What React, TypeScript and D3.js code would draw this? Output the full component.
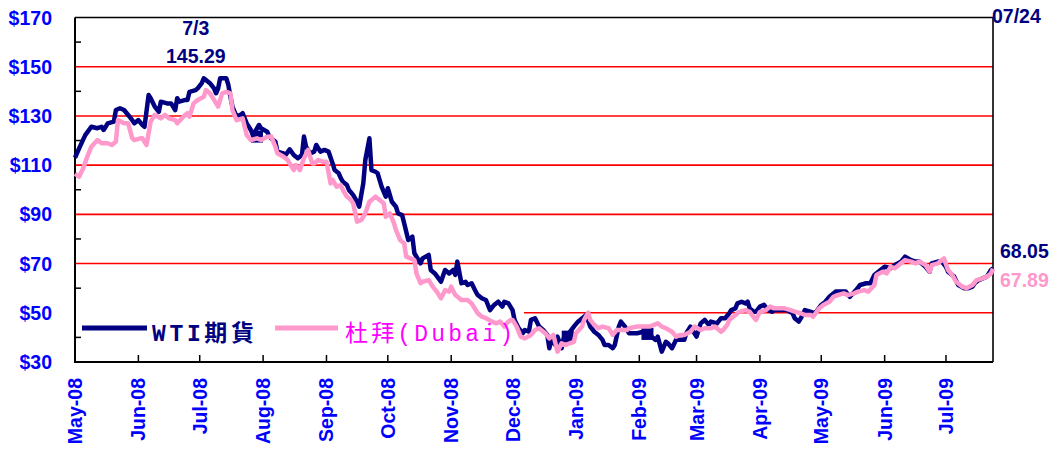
import * as d3 from 'd3';
import React from 'react';

// WTI futures and Dubai crude (date, USD/bbl)
const wtiSeries: [string, number][] = [
  ["2008-05-01",113],["2008-05-03",116.8],["2008-05-06",122.2],["2008-05-09",125.6],["2008-05-12",125],["2008-05-14",125.6],["2008-05-15",124.3],["2008-05-17",127],["2008-05-20",127.7],["2008-05-21",132.4],["2008-05-23",133.1],["2008-05-25",132.4],["2008-05-27",130.4],["2008-05-29",128.3],["2008-05-30",127],
  ["2008-06-01",128.3],["2008-06-03",126.3],["2008-06-04",125.6],["2008-06-06",138.5],["2008-06-07",137.2],["2008-06-09",133.8],["2008-06-11",131.7],["2008-06-12",135.8],["2008-06-15",135.1],["2008-06-17",135.1],["2008-06-19",132.4],["2008-06-20",137.2],["2008-06-21",135.8],["2008-06-24",136.5],["2008-06-25",136.5],["2008-06-26",139.8],["2008-06-29",140.5],["2008-06-30",141.2],
  ["2008-07-02",143.3],["2008-07-03",145.29],["2008-07-06",143.3],["2008-07-08",141.2],["2008-07-09",139.2],["2008-07-10",141.2],["2008-07-11",145.3],["2008-07-14",145.3],["2008-07-15",142.6],["2008-07-16",137.8],["2008-07-17",133.8],["2008-07-19",129.7],["2008-07-21",130.4],["2008-07-22",131.1],["2008-07-24",127],["2008-07-26",124.3],["2008-07-27",122.2],["2008-07-30",126.3],["2008-07-31",125],
  ["2008-08-03",123.6],["2008-08-04",121.6],["2008-08-07",119.5],["2008-08-08",115.5],["2008-08-11",114.8],["2008-08-12",114.1],["2008-08-14",116.4],["2008-08-16",114.1],["2008-08-18",112.8],["2008-08-20",114.1],["2008-08-21",121.6],["2008-08-22",117.5],["2008-08-24",114.8],["2008-08-26",115.5],["2008-08-27",118.2],["2008-08-29",115.5],["2008-08-31",116.2],
  ["2008-09-02",115.5],["2008-09-04",110.7],["2008-09-05",108],["2008-09-07",106.7],["2008-09-08",104.7],["2008-09-09",103.3],["2008-09-11",101.9],["2008-09-12",99.9],["2008-09-14",97.9],["2008-09-16",95.1],["2008-09-17",93.1],["2008-09-19",102.6],["2008-09-20",112.1],["2008-09-22",120.9],["2008-09-23",108],["2008-09-25",107.3],["2008-09-26",106.7],["2008-09-28",101.2],["2008-09-30",97.2],
  ["2008-10-01",100.6],["2008-10-03",95.1],["2008-10-05",93.1],["2008-10-06",90.4],["2008-10-08",89.7],["2008-10-09",86.4],["2008-10-11",79.6],["2008-10-13",80.9],["2008-10-14",74.2],["2008-10-17",70.1],["2008-10-18",72.1],["2008-10-21",73.5],["2008-10-22",67.4],["2008-10-24",66],["2008-10-27",62.6],["2008-10-29",67.4],["2008-10-31",66],
  ["2008-11-02",67.4],["2008-11-03",65.4],["2008-11-04",70.8],["2008-11-06",62],["2008-11-08",62.6],["2008-11-09",61.3],["2008-11-11",62],["2008-11-13",58.6],["2008-11-14",57.2],["2008-11-16",55.9],["2008-11-18",55.2],["2008-11-20",51.1],["2008-11-22",53.2],["2008-11-24",54.5],["2008-11-26",52.5],["2008-11-27",54.5],["2008-11-29",53.8],
  ["2008-12-01",51.1],["2008-12-02",47.1],["2008-12-04",43.7],["2008-12-06",41.7],["2008-12-07",43],["2008-12-09",42.3],["2008-12-10",47.1],["2008-12-12",47.8],["2008-12-14",44.4],["2008-12-16",43],["2008-12-18",41],["2008-12-19",35.6],["2008-12-20",39],["2008-12-22",36.9],["2008-12-23",40.3],["2008-12-25",35.6],["2008-12-26",39.6],["2008-12-28",41],["2008-12-31",44.4],
  ["2009-01-02",46.4],["2009-01-05",48.4],["2009-01-06",49.1],["2009-01-08",44.4],["2009-01-10",42.3],["2009-01-12",41],["2009-01-14",39],["2009-01-15",36.9],["2009-01-17",36.9],["2009-01-19",35.6],["2009-01-20",36.9],["2009-01-22",44.4],["2009-01-23",46.4],["2009-01-25",44.4],["2009-01-27",41.7],["2009-01-31",41.7],
  ["2009-02-03",42.3],["2009-02-05",41],["2009-02-07",40.3],["2009-02-09",39],["2009-02-10",40.3],["2009-02-12",34.2],["2009-02-14",38.2],["2009-02-15",37.6],["2009-02-17",35.6],["2009-02-19",39],["2009-02-21",39],["2009-02-23",39],["2009-02-24",41.7],["2009-02-26",44.4],["2009-02-27",43],
  ["2009-03-01",40.3],["2009-03-03",45.7],["2009-03-05",47.1],["2009-03-07",45.1],["2009-03-08",46.4],["2009-03-11",45.7],["2009-03-13",47.8],["2009-03-15",47.8],["2009-03-17",49.8],["2009-03-18",51.1],["2009-03-20",51.8],["2009-03-21",53.8],["2009-03-23",54.5],["2009-03-25",53.8],["2009-03-26",54.5],["2009-03-27",51.8],["2009-03-29",50.4],["2009-03-30",50.4],
  ["2009-04-01",52.5],["2009-04-03",53.2],["2009-04-05",51.1],["2009-04-07",50.4],["2009-04-08",51.1],["2009-04-10",51.1],["2009-04-13",51.1],["2009-04-14",51.1],["2009-04-17",49.8],["2009-04-18",47.8],["2009-04-20",46.4],["2009-04-21",47.8],["2009-04-23",51.1],["2009-04-26",50.4],["2009-04-28",49.8],
  ["2009-05-01",53.2],["2009-05-03",54.5],["2009-05-05",56.5],["2009-05-08",58.6],["2009-05-10",58.6],["2009-05-13",58.6],["2009-05-15",56.5],["2009-05-18",59.2],["2009-05-20",61.3],["2009-05-23",62],["2009-05-25",62],["2009-05-27",65.4],["2009-05-30",67.4],
  ["2009-06-01",68.7],["2009-06-04",68.1],["2009-06-06",69.4],["2009-06-09",70.8],["2009-06-11",72.8],["2009-06-14",71.4],["2009-06-16",70.8],["2009-06-18",70.8],["2009-06-21",68.7],["2009-06-23",66.7],["2009-06-24",70.1],["2009-06-27",70.8],["2009-06-29",70.8],
  ["2009-07-01",68.7],["2009-07-02",66.7],["2009-07-05",64.7],["2009-07-07",61.3],["2009-07-10",60],["2009-07-12",60],["2009-07-14",60.6],["2009-07-15",62],["2009-07-17",63.3],["2009-07-19",64],["2009-07-21",64.7],["2009-07-23",67.4],["2009-07-24",68.05],
];

const dubaiSeries: [string, number][] = [
  ["2008-05-01",106.5],["2008-05-03",105.3],["2008-05-05",108.7],["2008-05-07",113.4],["2008-05-09",117.5],["2008-05-12",120.2],["2008-05-14",118.9],["2008-05-17",118.9],["2008-05-19",118.2],["2008-05-21",119.5],["2008-05-22",128.3],["2008-05-25",127],["2008-05-27",127],["2008-05-29",120.9],["2008-05-30",120.2],
  ["2008-06-02",120.9],["2008-06-03",120.9],["2008-06-05",118.2],["2008-06-07",127.7],["2008-06-09",130.4],["2008-06-12",129],["2008-06-14",130.4],["2008-06-16",129],["2008-06-19",128.3],["2008-06-20",127],["2008-06-23",129.7],["2008-06-25",131.1],["2008-06-26",129.7],["2008-06-28",135.1],["2008-06-30",136.5],
  ["2008-07-03",137.8],["2008-07-04",140.5],["2008-07-06",139.2],["2008-07-08",136.5],["2008-07-10",133.8],["2008-07-12",139.2],["2008-07-14",139.8],["2008-07-16",139.2],["2008-07-17",132.4],["2008-07-19",128.3],["2008-07-22",129],["2008-07-24",122.2],["2008-07-26",120.2],["2008-07-29",120.9],["2008-07-31",120.2],
  ["2008-08-03",121.5],["2008-08-05",121.6],["2008-08-07",117.5],["2008-08-08",114.8],["2008-08-11",113.4],["2008-08-13",112.1],["2008-08-16",108],["2008-08-17",110],["2008-08-19",108],["2008-08-21",112.8],["2008-08-23",116.2],["2008-08-25",110.7],["2008-08-26",110.7],["2008-08-28",112.1],["2008-08-30",111.4],
  ["2008-09-01",111.4],["2008-09-03",102.6],["2008-09-04",104],["2008-09-06",101.2],["2008-09-08",101.9],["2008-09-09",99.9],["2008-09-11",97.2],["2008-09-13",95.8],["2008-09-14",94.5],["2008-09-16",87],["2008-09-18",87.7],["2008-09-20",90.4],["2008-09-22",95.1],["2008-09-25",97.2],["2008-09-27",95.8],["2008-09-29",94.5],["2008-09-30",89],
  ["2008-10-02",90.4],["2008-10-04",86.4],["2008-10-05",83.6],["2008-10-07",79.6],["2008-10-09",78.2],["2008-10-10",72.8],["2008-10-12",72.1],["2008-10-14",71.4],["2008-10-15",66],["2008-10-17",62],["2008-10-18",62.6],["2008-10-21",63.3],["2008-10-23",60.6],["2008-10-25",58.5],["2008-10-27",55.9],["2008-10-29",59.2],["2008-10-31",58.6],
  ["2008-11-01",60.6],["2008-11-03",57.2],["2008-11-05",55.9],["2008-11-06",55.2],["2008-11-09",55.2],["2008-11-11",53.8],["2008-11-14",49.8],["2008-11-16",48.4],["2008-11-18",47.8],["2008-11-21",46.4],["2008-11-23",45.7],["2008-11-25",46.4],["2008-11-27",44.4],["2008-11-28",45.7],["2008-11-30",47.1],
  ["2008-12-01",47.1],["2008-12-03",44.4],["2008-12-05",40.3],["2008-12-07",39.6],["2008-12-10",41],["2008-12-12",43],["2008-12-14",43.7],["2008-12-17",41.7],["2008-12-19",39.6],["2008-12-21",41],["2008-12-23",34.2],["2008-12-25",37.6],["2008-12-27",36.9],["2008-12-29",37.6],["2008-12-31",38.2],
  ["2009-01-01",41.7],["2009-01-04",44.4],["2009-01-05",47.1],["2009-01-07",50.1],["2009-01-08",47.1],["2009-01-10",45.1],["2009-01-12",43.7],["2009-01-14",44.4],["2009-01-17",43.7],["2009-01-19",41],["2009-01-21",43],["2009-01-23",43],["2009-01-26",43],["2009-01-27",43.7],["2009-01-31",44.4],
  ["2009-02-03",44.4],["2009-02-06",44.4],["2009-02-10",45.7],["2009-02-12",44.4],["2009-02-14",43.7],["2009-02-17",42.3],["2009-02-19",40.3],["2009-02-21",41],["2009-02-23",41],["2009-02-26",42.3],["2009-02-28",44.4],
  ["2009-03-03",43],["2009-03-05",43.7],["2009-03-08",43.7],["2009-03-10",44.4],["2009-03-13",42.3],["2009-03-14",43],["2009-03-16",45.1],["2009-03-17",47.1],["2009-03-20",49.1],["2009-03-22",50.4],["2009-03-25",51.1],["2009-03-27",50.4],["2009-03-30",47.1],
  ["2009-04-01",50.4],["2009-04-04",51.1],["2009-04-06",52.5],["2009-04-08",51.8],["2009-04-11",51.8],["2009-04-13",51.8],["2009-04-16",51.1],["2009-04-18",50.5],["2009-04-21",49.8],["2009-04-23",49.1],["2009-04-26",49.1],["2009-04-27",48.4],["2009-04-30",51.8],
  ["2009-05-02",53.2],["2009-05-05",54.5],["2009-05-07",56.5],["2009-05-09",57.2],["2009-05-12",57.9],["2009-05-14",57.2],["2009-05-17",57.9],["2009-05-19",58.6],["2009-05-22",59.2],["2009-05-24",58.6],["2009-05-27",61.3],["2009-05-28",65.4],["2009-05-31",66.7],
  ["2009-06-02",66],["2009-06-04",68.7],["2009-06-06",68.1],["2009-06-09",70.1],["2009-06-11",71.4],["2009-06-14",70.8],["2009-06-16",70.1],["2009-06-18",70.8],["2009-06-21",69.4],["2009-06-23",66.7],["2009-06-24",69.4],["2009-06-27",70.1],["2009-06-29",71.4],["2009-06-30",72.1],
  ["2009-07-02",67.4],["2009-07-04",65.4],["2009-07-06",62.6],["2009-07-09",60.6],["2009-07-11",60],["2009-07-14",61.3],["2009-07-16",63.3],["2009-07-19",64],["2009-07-21",64.7],["2009-07-23",66],["2009-07-24",67.89],
];

// the few square markers on the WTI line
const wtiMarkers: [string, number][] = [["2008-07-29",121.6],["2008-12-28",40.3],["2009-02-05",41.4]];

const yTicks = [30, 50, 70, 90, 110, 130, 150, 170];
const yMinor = [40, 60, 80, 100, 120, 140, 160];
const startDate = "2008-05-01";
const endDate = "2009-07-24";
const peakDate = "2008-07-03";
const peakValue = 145.29;

const NAVY = '#000080';
const PINK = '#ff99cc';
const BLUE = '#0000ff';
const FONT = '"Liberation Sans", Arial, sans-serif';
const LEGEND_FONT = '"Liberation Mono", "Noto Sans CJK TC", monospace';

const parse = d3.timeParse('%Y-%m-%d');

export default function App() {
  const width = 1057;
  const height = 450;
  const left = 75, right = 993, top = 17.5, bottom = 362;

  const x = d3.scaleTime()
    .domain([parse(startDate)!, parse(endDate)!])
    .range([left, right]);
  const y = d3.scaleLinear().domain([30, 170]).range([bottom, top]);

  const line = d3.line<[string, number]>()
    .x(d => x(parse(d[0])!))
    .y(d => y(d[1]));

  const months = d3.timeMonth.range(parse(startDate)!, parse(endDate)!);
  const fmt = d3.timeFormat('%b-%y');

  const wtiLast = wtiSeries[wtiSeries.length - 1][1];
  const dubaiLast = dubaiSeries[dubaiSeries.length - 1][1];

  return (
    <svg width={width} height={height} style={{ position: 'absolute', left: 0, top: 0, background: '#fff' }}>
      {/* grid lines; the $50 one stops at the legend */}
      {yTicks.filter(t => t > 30 && t < 170).map(t => (
        <line key={t} x1={t === 50 ? 524 : left} x2={right} y1={y(t)} y2={y(t)} stroke="#ff0000" strokeWidth={1.6} />
      ))}
      <line x1={left} x2={right} y1={y(170)} y2={y(170)} stroke="#000" strokeWidth={1.6} />
      <line x1={right} x2={right} y1={top} y2={bottom} stroke="#000" strokeWidth={1.6} />

      {/* axes */}
      <line x1={left} x2={left} y1={top} y2={bottom + 1} stroke="#000" strokeWidth={2} />
      <line x1={left} x2={right} y1={bottom} y2={bottom} stroke="#000" strokeWidth={2} />
      {yMinor.map(t => (
        <line key={t} x1={left} x2={left + 6} y1={y(t)} y2={y(t)} stroke="#000" strokeWidth={1.5} />
      ))}
      {months.map((m, i) => (
        <line key={i} x1={x(m)} x2={x(m)} y1={bottom} y2={bottom - 7} stroke="#000" strokeWidth={1.5} />
      ))}

      {yTicks.map(t => (
        <text key={t} x={52} y={y(t) + 7} textAnchor="end" fontFamily={FONT} fontWeight="bold" fontSize={19.5} fill={BLUE}>
          ${t}
        </text>
      ))}
      {months.map((m, i) => (
        <text key={i} transform={`translate(${x(m) + 7},378) rotate(-90)`} textAnchor="end"
          fontFamily={FONT} fontWeight="bold" fontSize={19.5} fill={BLUE}>
          {fmt(m)}
        </text>
      ))}

      {/* series */}
      <path d={line(wtiSeries) || ''} fill="none" stroke={NAVY} strokeWidth={4.5} strokeLinejoin="round" />
      {wtiMarkers.map((d, i) => (
        <rect key={i} x={x(parse(d[0])!) - 6} y={y(d[1]) - 6} width={12} height={12} fill={NAVY} />
      ))}
      <path d={line(dubaiSeries) || ''} fill="none" stroke={PINK} strokeWidth={4.5} strokeLinejoin="round" />

      {/* legend */}
      <line x1={82} x2={147} y1={328} y2={328} stroke={NAVY} strokeWidth={5} />
      <text x={152} y={341} fontFamily={LEGEND_FONT} fontWeight="bold" fontSize={23} fill={NAVY}
        textLength={102} lengthAdjust="spacing">WTI期貨</text>
      <line x1={275} x2={338} y1={328} y2={328} stroke={PINK} strokeWidth={5} />
      <text x={345} y={341} fontFamily={LEGEND_FONT} fontSize={23} fill="#ff00ff"
        textLength={168} lengthAdjust="spacing">杜拜(Dubai)</text>

      {/* annotations */}
      <text x={x(parse(peakDate)!) - 8} y={35} textAnchor="middle" fontFamily={FONT} fontWeight="bold" fontSize={19.5} fill={NAVY}>7/3</text>
      <text x={x(parse(peakDate)!) - 8} y={63} textAnchor="middle" fontFamily={FONT} fontWeight="bold" fontSize={19.5} fill={NAVY}>{peakValue}</text>
      <text x={992} y={23} fontFamily={FONT} fontWeight="bold" fontSize={19.5} fill={NAVY}>07/24</text>
      <text x={1000} y={258} fontFamily={FONT} fontWeight="bold" fontSize={19.5} fill={NAVY}>{wtiLast.toFixed(2)}</text>
      <text x={1000} y={287} fontFamily={FONT} fontWeight="bold" fontSize={19.5} fill={PINK}>{dubaiLast.toFixed(2)}</text>
    </svg>
  );
}
